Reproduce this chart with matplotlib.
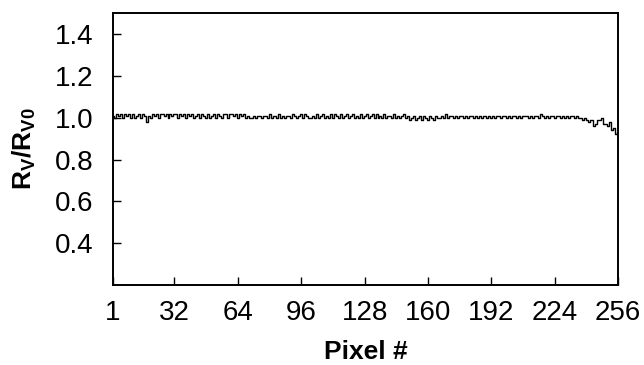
import numpy as np
import matplotlib
matplotlib.use("Agg")
from matplotlib import pyplot as plt

plt.rcParams['font.family'] = ['Liberation Sans', 'DejaVu Sans']
plt.rcParams['mathtext.fontset'] = 'custom'
plt.rcParams['mathtext.rm'] = 'Liberation Sans'
plt.rcParams['mathtext.bf'] = 'Liberation Sans:bold'

# Ratio R_V/R_V0 per pixel
ratio = [
    1.01, 1.00, 1.02, 1.01, 1.02, 1.00, 1.02, 1.01, 1.02, 1.00, 1.02, 1.00, 1.01, 1.02, 1.00, 1.02,
    1.01, 0.98, 1.01, 1.00, 1.02, 1.01, 1.02, 1.00, 1.02, 1.02, 1.01, 1.02, 1.00, 1.02, 1.01, 1.02,
    1.02, 1.00, 1.02, 1.01, 1.02, 1.00, 1.02, 1.01, 1.02, 1.00, 1.01, 1.02, 1.00, 1.02, 1.01, 1.00,
    1.02, 1.00, 1.01, 1.02, 1.00, 1.02, 1.01, 1.00, 1.02, 1.02, 1.00, 1.02, 1.02, 1.01, 1.02, 1.00,
    1.02, 1.01, 1.02, 1.00, 1.01, 1.00, 1.00, 1.01, 1.00, 1.01, 1.01, 1.00, 1.01, 1.01, 1.00, 1.02,
    1.00, 1.01, 1.01, 1.00, 1.02, 1.00, 1.01, 1.00, 1.01, 1.01, 1.00, 1.02, 1.01, 1.00, 1.01, 1.02,
    1.00, 1.02, 1.01, 1.00, 1.00, 1.01, 1.00, 1.02, 1.00, 1.01, 1.02, 1.00, 1.01, 1.00, 1.02, 1.00,
    1.02, 1.01, 1.00, 1.02, 1.00, 1.01, 1.02, 1.00, 1.01, 1.02, 1.00, 1.01, 1.00, 1.02, 1.00, 1.01,
    1.02, 1.00, 1.01, 1.02, 1.00, 1.02, 1.00, 1.01, 1.00, 1.02, 1.00, 1.01, 1.01, 1.00, 1.02, 1.00,
    1.01, 1.00, 1.01, 1.02, 1.00, 1.01, 0.99, 1.00, 1.01, 0.99, 1.00, 1.01, 0.99, 1.01, 1.00, 0.99,
    1.01, 1.00, 0.99, 1.01, 1.00, 1.00, 1.01, 1.00, 1.02, 1.00, 1.01, 1.01, 1.00, 1.01, 1.00, 1.01,
    1.01, 1.00, 1.01, 1.00, 1.01, 1.01, 1.00, 1.01, 1.00, 1.01, 1.00, 1.01, 1.01, 1.00, 1.01, 1.00,
    1.01, 1.00, 1.01, 1.01, 1.00, 1.01, 1.01, 1.00, 1.01, 1.00, 1.01, 1.01, 1.00, 1.01, 1.00, 1.01,
    1.01, 1.01, 1.00, 1.01, 1.00, 1.01, 1.01, 1.00, 1.02, 1.01, 1.00, 1.01, 1.00, 1.01, 1.01, 1.00,
    1.01, 1.01, 1.00, 1.01, 1.00, 1.01, 1.00, 1.01, 1.01, 1.00, 1.01, 1.00, 1.00, 0.99, 1.00, 0.99,
    0.98, 0.99, 0.99, 0.96, 0.97, 0.99, 0.99, 1.00, 0.97, 0.97, 0.96, 0.98, 0.94, 0.95, 0.92, 0.93,
]
pixel = np.arange(1, len(ratio) + 1)

x_ticks = [1, 32, 64, 96, 128, 160, 192, 224, 256]
y_ticks = [0.4, 0.6, 0.8, 1.0, 1.2, 1.4]

fig = plt.figure(figsize=(6.44, 3.65), dpi=100)
ax = fig.add_axes([0.1755, 0.219, 0.7845, 0.745])

ax.plot(pixel, ratio, color='black', lw=1.0, drawstyle='steps-mid')

ax.set_xlim(1, 256)
ax.set_ylim(0.2, 1.5)
ax.set_xticks(x_ticks)
ax.set_yticks(y_ticks)
ax.set_yticklabels(['%.1f' % v for v in y_ticks])
ax.tick_params(direction='in', length=6, width=1, labelsize=20)
ax.tick_params(axis='y', pad=14)
ax.tick_params(axis='x', pad=11)
for s in ax.spines.values():
    s.set_linewidth(1.4)

ax.set_xlabel('Pixel #', fontsize=19, fontweight='bold', labelpad=10)
ax.set_ylabel(r'$\mathbf{R_{V}/R_{V0}}$', fontsize=19, labelpad=12)

fig.savefig('out.png', dpi=100)
